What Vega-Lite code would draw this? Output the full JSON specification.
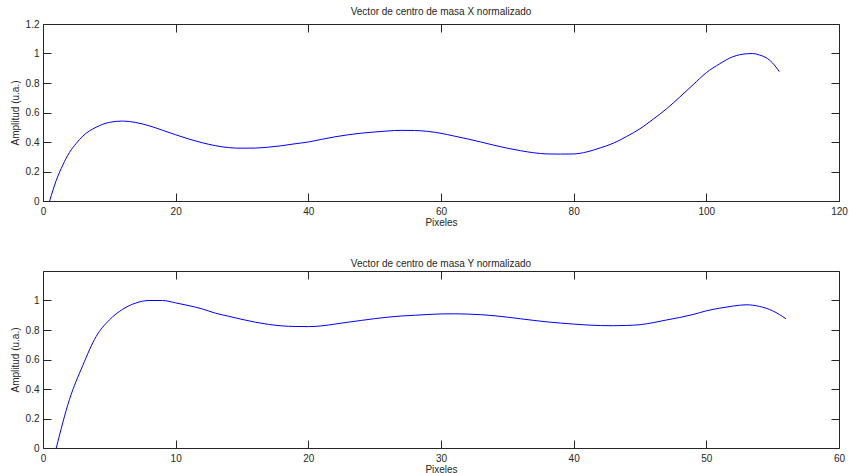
{
  "$schema": "https://vega.github.io/schema/vega-lite/v6.json",
  "background": "white",
  "padding": {"left": 9, "top": 6, "right": 0, "bottom": 0},
  "spacing": 30,
  "datasets": {
    "xdata": [
      {"px":1,"amp":0},{"px":2,"amp":0.14},{"px":3,"amp":0.245},{"px":4,"amp":0.33},{"px":5,"amp":0.39},
      {"px":6,"amp":0.44},{"px":7,"amp":0.475},{"px":8,"amp":0.5},{"px":9,"amp":0.52},{"px":10,"amp":0.533},{"px":12,"amp":0.542},
      {"px":14,"amp":0.532},{"px":16,"amp":0.51},{"px":18,"amp":0.48},{"px":20,"amp":0.449},{"px":22,"amp":0.42},
      {"px":24,"amp":0.395},{"px":26,"amp":0.375},{"px":28,"amp":0.362},{"px":30,"amp":0.358},{"px":32,"amp":0.359},
      {"px":34,"amp":0.365},{"px":36,"amp":0.375},{"px":38,"amp":0.388},{"px":40,"amp":0.4},{"px":42,"amp":0.418},
      {"px":44,"amp":0.435},{"px":46,"amp":0.449},{"px":48,"amp":0.46},{"px":50,"amp":0.468},{"px":52,"amp":0.475},
      {"px":54,"amp":0.479},{"px":56,"amp":0.478},{"px":58,"amp":0.472},{"px":60,"amp":0.459},{"px":62,"amp":0.44},
      {"px":64,"amp":0.421},{"px":66,"amp":0.4},{"px":68,"amp":0.378},{"px":70,"amp":0.358},{"px":72,"amp":0.341},
      {"px":74,"amp":0.327},{"px":76,"amp":0.319},{"px":78,"amp":0.318},{"px":80,"amp":0.319},{"px":82,"amp":0.333},
      {"px":84,"amp":0.36},{"px":86,"amp":0.392},{"px":88,"amp":0.438},{"px":90,"amp":0.49},{"px":92,"amp":0.555},
      {"px":94,"amp":0.625},{"px":96,"amp":0.705},{"px":98,"amp":0.788},{"px":100,"amp":0.87},{"px":102,"amp":0.93},
      {"px":104,"amp":0.978},{"px":106,"amp":0.998},{"px":107,"amp":1.0},{"px":108,"amp":0.99},{"px":109,"amp":0.972},
      {"px":110,"amp":0.935},{"px":111,"amp":0.877}
    ],
    "ydata": [
      {"px":1,"amp":0},{"px":2,"amp":0.33},{"px":3,"amp":0.56},{"px":4,"amp":0.755},{"px":5,"amp":0.868},
      {"px":6,"amp":0.94},{"px":7,"amp":0.983},{"px":8,"amp":1.0},{"px":9,"amp":1.0},{"px":10,"amp":0.984},
      {"px":11,"amp":0.965},{"px":12,"amp":0.943},{"px":13,"amp":0.914},{"px":14,"amp":0.893},{"px":15,"amp":0.872},
      {"px":16,"amp":0.853},{"px":17,"amp":0.838},{"px":18,"amp":0.828},{"px":19,"amp":0.824},{"px":20,"amp":0.823},
      {"px":21,"amp":0.828},{"px":22,"amp":0.84},{"px":23,"amp":0.853},{"px":24,"amp":0.865},{"px":25,"amp":0.877},
      {"px":26,"amp":0.887},{"px":27,"amp":0.895},{"px":28,"amp":0.9},{"px":29,"amp":0.905},{"px":30,"amp":0.909},
      {"px":31,"amp":0.91},{"px":32,"amp":0.908},{"px":33,"amp":0.904},{"px":34,"amp":0.897},{"px":35,"amp":0.887},
      {"px":36,"amp":0.876},{"px":37,"amp":0.865},{"px":38,"amp":0.855},{"px":39,"amp":0.847},{"px":40,"amp":0.84},
      {"px":41,"amp":0.834},{"px":42,"amp":0.83},{"px":43,"amp":0.829},{"px":44,"amp":0.831},{"px":45,"amp":0.836},
      {"px":46,"amp":0.85},{"px":47,"amp":0.868},{"px":48,"amp":0.885},{"px":49,"amp":0.905},{"px":50,"amp":0.93},
      {"px":51,"amp":0.948},{"px":52,"amp":0.962},{"px":53,"amp":0.971},{"px":54,"amp":0.96},{"px":55,"amp":0.93},
      {"px":56,"amp":0.876}
    ]
  },
  "vconcat": [
    {
      "width": 796, "height": 177,
      "data": {"name": "xdata"},
      "title": {"text": "Vector de centro de masa X normalizado"},
      "layer": [
        {
          "mark": {"type": "line", "color": "#0000ff", "strokeWidth": 1, "interpolate": "monotone"},
          "encoding": {
            "x": {"field": "px", "type": "quantitative", "scale": {"domain": [0, 120], "nice": false, "zero": false},
                  "axis": {"orient": "bottom", "title": "Pixeles", "values": [0,20,40,60,80,100,120]}},
            "y": {"field": "amp", "type": "quantitative", "scale": {"domain": [0, 1.2], "nice": false},
                  "axis": {"orient": "left", "title": "Amplitud (u.a.)", "values": [0,0.2,0.4,0.6,0.8,1,1.2]}}
          }
        },
        {
          "mark": {"type": "line", "opacity": 0},
          "encoding": {
            "x": {"field": "px", "type": "quantitative", "axis": {"orient": "top", "labels": false, "title": null, "values": [0,20,40,60,80,100,120]}},
            "y": {"field": "amp", "type": "quantitative", "axis": {"orient": "right", "labels": false, "title": null, "values": [0,0.2,0.4,0.6,0.8,1,1.2]}}
          }
        }
      ],
      "resolve": {"axis": {"x": "independent", "y": "independent"}}
    },
    {
      "width": 796, "height": 177,
      "data": {"name": "ydata"},
      "title": {"text": "Vector de centro de masa Y normalizado"},
      "layer": [
        {
          "mark": {"type": "line", "color": "#0000ff", "strokeWidth": 1, "interpolate": "monotone"},
          "encoding": {
            "x": {"field": "px", "type": "quantitative", "scale": {"domain": [0, 60], "nice": false, "zero": false},
                  "axis": {"orient": "bottom", "title": "Pixeles", "values": [0,10,20,30,40,50,60]}},
            "y": {"field": "amp", "type": "quantitative", "scale": {"domain": [0, 1.2], "nice": false},
                  "axis": {"orient": "left", "title": "Amplitud (u.a.)", "values": [0,0.2,0.4,0.6,0.8,1]}}
          }
        },
        {
          "mark": {"type": "line", "opacity": 0},
          "encoding": {
            "x": {"field": "px", "type": "quantitative", "axis": {"orient": "top", "labels": false, "title": null, "values": [0,10,20,30,40,50,60]}},
            "y": {"field": "amp", "type": "quantitative", "axis": {"orient": "right", "labels": false, "title": null, "values": [0,0.2,0.4,0.6,0.8,1]}}
          }
        }
      ],
      "resolve": {"axis": {"x": "independent", "y": "independent"}}
    }
  ],
  "config": {
    "view": {"stroke": "#262626", "strokeWidth": 1},
    "axis": {
      "grid": false, "domain": false, "tickColor": "#262626", "offset": -8,
      "tickSize": 8, "format": "~r", "labelFlush": false, "labelOverlap": false,
      "labelFont": "Liberation Sans", "labelFontSize": 10, "labelColor": "#262626",
      "titleFont": "Liberation Sans", "titleFontSize": 10, "titleFontWeight": "normal", "titleColor": "#262626"
    },
    "axisX": {"labelPadding": 5, "titlePadding": 1},
    "axisY": {"labelPadding": 4, "titlePadding": 5},
    "title": {"font": "Liberation Sans", "fontSize": 10, "fontWeight": "normal", "color": "#262626", "offset": 2}
  }
}
